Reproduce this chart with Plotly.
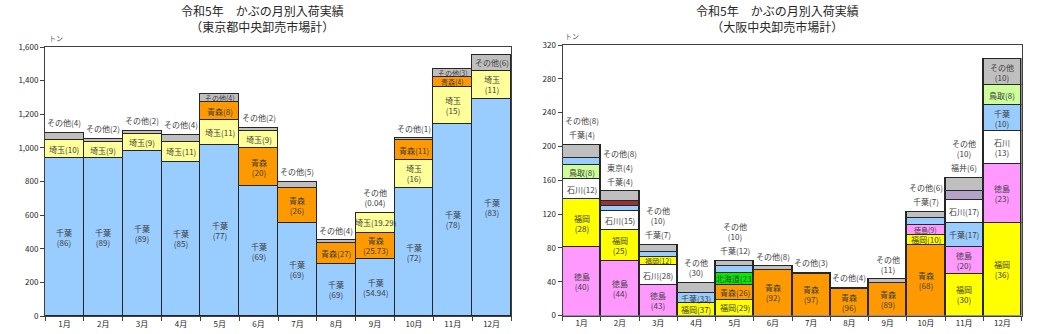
import plotly.graph_objects as go

MONTHS = [f"{m}月" for m in range(1, 13)]

# 東京都中央卸売市場計: monthly arrivals (t) and prefecture shares (%)
TK_TOTAL = [1090, 1055, 1103, 1079, 1323, 1120, 800, 452, 615, 1056, 1467, 1553]
TK_CHIBA = [86, 89, 89, 85, 77, 69, 69, 69, 54.94, 72, 78, 83]
TK_SAITAMA = [10, 9, 9, 11, 11, 9, None, None, 19.29, 16, 15, 11]
TK_AOMORI = [None, None, None, None, 8, 20, 26, 27, 25.73, 11, 4, None]
TK_OTHER = [4, 2, 2, 4, 4, 2, 5, 4, 0.04, 1, 3, 6]

# 大阪中央卸売市場計: monthly arrivals (t) and prefecture shares (%)
OS_TOTAL = [202, 147, 83.5, 38.5, 65, 58, 50.4, 32.6, 42.6, 122.5, 163, 303]
OS_TOKUSHIMA = [40, 44, 43, None, None, None, None, None, None, 9, 20, 23]
OS_FUKUOKA = [28, 25, 12, 37, 29, None, None, None, None, 10, 30, 36]
OS_ISHIKAWA = [12, 15, 28, None, None, None, None, None, None, None, 17, 13]
OS_TOTTORI = [8, None, None, None, None, None, None, None, None, None, None, 8]
OS_CHIBA = [4, 4, 7, 33, 12, None, None, None, None, 7, 17, 10]
OS_TOKYO = [None, 4, None, None, None, None, None, None, None, None, None, None]
OS_HOKKAIDO = [None, None, None, None, 23, None, None, None, None, None, None, None]
OS_AOMORI = [None, None, None, None, 26, 92, 97, 96, 89, 68, None, None]
OS_FUKUI = [None, None, None, None, None, None, None, None, None, None, 6, None]
OS_OTHER = [8, 8, 10, 30, 10, 8, 3, 4, 11, 6, 10, 10]

TK_SHARES = {"千葉": TK_CHIBA, "埼玉": TK_SAITAMA, "青森": TK_AOMORI, "その他": TK_OTHER}
OS_SHARES = {"徳島": OS_TOKUSHIMA, "福岡": OS_FUKUOKA, "石川": OS_ISHIKAWA,
             "鳥取": OS_TOTTORI, "千葉": OS_CHIBA, "東京": OS_TOKYO,
             "北海道": OS_HOKKAIDO, "青森": OS_AOMORI, "福井": OS_FUKUI,
             "その他": OS_OTHER}

COLORS = {"千葉": "#99CCFF", "埼玉": "#FFFF99", "青森": "#FF9900", "その他": "#BFBFBF",
          "徳島": "#FF99FF", "福岡": "#FFFF00", "石川": "#FFFFFF", "鳥取": "#CCFF99",
          "東京": "#993333", "北海道": "#00EE00", "福井": "#B3A2C7"}

# bottom-to-top stacking per month with label style:
# w = two lines inside, s = one line inside, o = one line above, O = two lines above
TK_STACK = [
    [("千葉", "w"), ("埼玉", "s"), ("その他", "o")],
    [("千葉", "w"), ("埼玉", "s"), ("その他", "o")],
    [("千葉", "w"), ("埼玉", "s"), ("その他", "o")],
    [("千葉", "w"), ("埼玉", "s"), ("その他", "o")],
    [("千葉", "w"), ("埼玉", "s"), ("青森", "s"), ("その他", "s")],
    [("千葉", "w"), ("青森", "w"), ("埼玉", "s"), ("その他", "o")],
    [("千葉", "w"), ("青森", "w"), ("その他", "o")],
    [("千葉", "w"), ("青森", "s"), ("その他", "o")],
    [("千葉", "w"), ("青森", "w"), ("埼玉", "s"), ("その他", "O")],
    [("千葉", "w"), ("埼玉", "w"), ("青森", "s"), ("その他", "o")],
    [("千葉", "w"), ("埼玉", "w"), ("青森", "s"), ("その他", "s")],
    [("千葉", "w"), ("埼玉", "w"), ("その他", "s")],
]
OS_STACK = [
    [("徳島", "w"), ("福岡", "w"), ("石川", "s"), ("鳥取", "s"), ("千葉", "o"), ("その他", "o")],
    [("徳島", "w"), ("福岡", "w"), ("石川", "s"), ("千葉", "o"), ("東京", "o"), ("その他", "o")],
    [("徳島", "w"), ("石川", "s"), ("福岡", "s"), ("千葉", "o"), ("その他", "O")],
    [("福岡", "s"), ("千葉", "s"), ("その他", "O")],
    [("福岡", "s"), ("青森", "s"), ("北海道", "s"), ("千葉", "o"), ("その他", "O")],
    [("青森", "w"), ("その他", "o")],
    [("青森", "w"), ("その他", "o")],
    [("青森", "w"), ("その他", "o")],
    [("青森", "w"), ("その他", "O")],
    [("青森", "w"), ("福岡", "s"), ("徳島", "s"), ("千葉", "o"), ("その他", "o")],
    [("福岡", "w"), ("徳島", "w"), ("千葉", "s"), ("石川", "s"), ("福井", "o"), ("その他", "O")],
    [("福岡", "w"), ("徳島", "w"), ("石川", "w"), ("千葉", "w"), ("鳥取", "s"), ("その他", "w")],
]

FONT = "Noto Sans CJK JP"
LABEL_COLOR = "#404040"
LABEL_SIZE = 8
SMALL_LABEL_SIZE = 7
EDGE = "#262626"

W, H = 1037, 334
TK_DOMAIN_Y = (1 - 316 / H, 1 - 47 / H)
OS_DOMAIN_Y = (1 - 315.5 / H, 1 - 45 / H)
TK_YMAX, OS_YMAX = 1600, 320

fig = go.Figure()
annotations = []


def fmt(v):
    return f"{v:g}"


def add_chart(stacks, shares, totals, xa, ya, px_per_unit):
    for i, month in enumerate(MONTHS):
        base = 0.0
        above = 0.0  # running pixel offset for labels above the bar
        first_above = True
        for name, style in stacks[i]:
            pct = shares[name][i]
            val = totals[i] * pct / 100.0
            fig.add_trace(go.Bar(
                x=[month], y=[val], xaxis=xa, yaxis=ya,
                marker=dict(color=COLORS[name], line=dict(color=EDGE, width=1.2)),
                showlegend=False, hoverinfo="skip", width=1.0,
            ))
            if style in ("w", "s"):
                text = f"{name}<br>({fmt(pct)})" if style == "w" else f"{name}({fmt(pct)})"
                size = SMALL_LABEL_SIZE if val * px_per_unit < 10 else LABEL_SIZE
                annotations.append(dict(
                    x=month, y=base + val / 2, xref=xa, yref=ya, text=text,
                    yanchor="middle", showarrow=False,
                    font=dict(size=size, color=LABEL_COLOR, family=FONT),
                ))
            else:
                half = 6 if style == "o" else 11
                if first_above:
                    center = 4 + half
                    first_above = False
                else:
                    center = above + 2 + half
                above = center + half
                text = f"{name}({fmt(pct)})" if style == "o" else f"{name}<br>({fmt(pct)})"
                annotations.append(dict(
                    x=month, y=totals[i], xref=xa, yref=ya, text=text, yshift=center,
                    yanchor="middle", showarrow=False,
                    font=dict(size=LABEL_SIZE, color=LABEL_COLOR, family=FONT),
                ))
            base += val


add_chart(TK_STACK, TK_SHARES, TK_TOTAL, "x", "y",
          (TK_DOMAIN_Y[1] - TK_DOMAIN_Y[0]) * H / TK_YMAX)
add_chart(OS_STACK, OS_SHARES, OS_TOTAL, "x2", "y2",
          (OS_DOMAIN_Y[1] - OS_DOMAIN_Y[0]) * H / OS_YMAX)

TITLE_LINE1 = "令和5年　かぶの月別入荷実績"
for cx, sub in ((262, "（東京都中央卸売市場計）"), (777, "（大阪中央卸売市場計）")):
    annotations.append(dict(x=cx / W, y=1, xref="paper", yref="paper",
                            text=f"{TITLE_LINE1}<br>{sub}", showarrow=False,
                            yanchor="top", xanchor="center", align="center",
                            font=dict(size=12, color="#262626", family=FONT)))

for lx, ly in ((47, 38), (563, 36)):
    annotations.append(dict(x=lx / W, y=1 - ly / H, xref="paper", yref="paper",
                            text="トン", showarrow=False, xanchor="left", yanchor="middle",
                            font=dict(size=7, color="#595959", family=FONT)))

axis_common = dict(showline=True, linecolor="#404040", linewidth=1, mirror=True,
                   showgrid=False, zeroline=False, ticks="outside", ticklen=4,
                   automargin=False,
                   tickcolor="#404040", tickfont=dict(size=8, color="#262626", family=FONT))

fig.update_layout(
    width=W, height=H, margin=dict(l=0, r=0, t=0, b=0, autoexpand=False),
    paper_bgcolor="white", plot_bgcolor="white",
    barmode="stack", bargap=0, annotations=annotations,
    font=dict(family=FONT),
    xaxis=dict(domain=[45 / W, 511 / W], anchor="y", type="category",
               categoryorder="array", categoryarray=MONTHS, range=[-0.5, 11.5],
               tickson="boundaries", **axis_common),
    yaxis=dict(domain=list(TK_DOMAIN_Y), anchor="x", range=[0, TK_YMAX],
               dtick=200, tickformat=",d", **axis_common),
    xaxis2=dict(domain=[562.5 / W, 1021.5 / W], anchor="y2", type="category",
                categoryorder="array", categoryarray=MONTHS, range=[-0.5, 11.5],
                tickson="boundaries", **axis_common),
    yaxis2=dict(domain=list(OS_DOMAIN_Y), anchor="x2", range=[0, OS_YMAX],
                dtick=40, **axis_common),
)

fig.write_html("out.html")
